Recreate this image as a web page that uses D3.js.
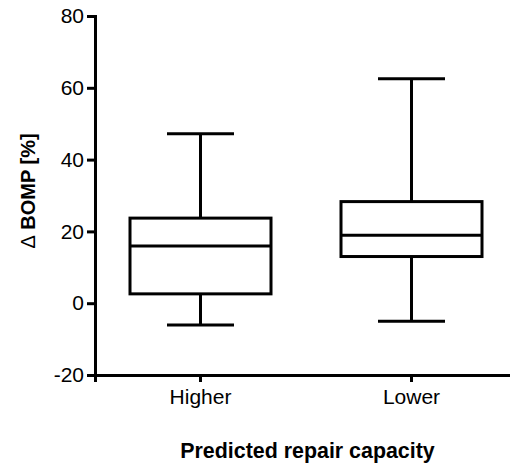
<!DOCTYPE html>
<html>
<head>
<meta charset="utf-8">
<script src="https://cdn.jsdelivr.net/npm/d3@7"></script>
<style>
  body { margin: 0; background: #fff; }
  text { font-family: "Liberation Sans", Arial, sans-serif; }
</style>
</head>
<body>
<div id="my_dataviz"></div>
<script>
// box plot data (whisker min/max, quartiles, median)
var groups = ["Higher", "Lower"];
var mins = [-6.1, -5.0];
var q1s = [2.6, 13.0];
var medians = [15.9, 18.9];
var q3s = [23.7, 28.3];
var maxs = [47.2, 62.5];
var yTicks = [-20, 0, 20, 40, 60, 80];

var margin = {top: 16, right: 0, bottom: 91, left: 95},
    width = 510 - margin.left - margin.right,
    height = 466 - margin.top - margin.bottom;

var svg = d3.select("#my_dataviz")
  .append("svg")
    .attr("width", width + margin.left + margin.right)
    .attr("height", height + margin.top + margin.bottom)
  .append("g")
    .attr("transform", "translate(" + margin.left + "," + margin.top + ")");

var data = groups.map(function(g, i) {
  return {name: g, min: mins[i], q1: q1s[i], median: medians[i], q3: q3s[i], max: maxs[i]};
});

var x = d3.scaleBand()
  .domain(groups)
  .range([0, 422])
  .padding(0);

var y = d3.scaleLinear()
  .domain([-20, 80])
  .range([height, 0]);

var boxW = 141, capW = 67;

// y axis (plain hyphen for negatives, like the original)
var yAxis = svg.append("g")
  .call(d3.axisLeft(y).tickValues(yTicks).tickSize(8).tickPadding(3)
    .tickFormat(function(d) { return String(d); }));
// x axis
var xAxis = svg.append("g")
  .attr("transform", "translate(0," + height + ")")
  .call(d3.axisBottom(x).tickSize(7).tickPadding(5));

[yAxis, xAxis].forEach(function(a) {
  a.select(".domain").attr("stroke-width", 3);
  a.selectAll(".tick line").attr("stroke-width", 3);
  a.selectAll("text").style("font-size", "21px").attr("fill", "#000");
});
xAxis.selectAll("text").attr("dy", "0.8em");

var box = svg.selectAll(".box")
  .data(data)
  .enter()
  .append("g")
    .attr("transform", function(d) { return "translate(" + (x(d.name) + x.bandwidth() / 2) + ",0)"; })
    .attr("stroke", "#000")
    .attr("stroke-width", 3)
    .attr("fill", "none");

// whiskers
box.append("line")
  .attr("y1", function(d) { return y(d.max); })
  .attr("y2", function(d) { return y(d.q3); });
box.append("line")
  .attr("y1", function(d) { return y(d.q1); })
  .attr("y2", function(d) { return y(d.min); });
box.append("line")
  .attr("x1", -capW / 2).attr("x2", capW / 2)
  .attr("y1", function(d) { return y(d.max); })
  .attr("y2", function(d) { return y(d.max); });
box.append("line")
  .attr("x1", -capW / 2).attr("x2", capW / 2)
  .attr("y1", function(d) { return y(d.min); })
  .attr("y2", function(d) { return y(d.min); });
// box
box.append("rect")
  .attr("x", -boxW / 2)
  .attr("width", boxW)
  .attr("y", function(d) { return y(d.q3); })
  .attr("height", function(d) { return y(d.q1) - y(d.q3); })
  .attr("fill", "#fff");
// median
box.append("line")
  .attr("x1", -boxW / 2).attr("x2", boxW / 2)
  .attr("y1", function(d) { return y(d.median); })
  .attr("y2", function(d) { return y(d.median); });

// axis titles
var yTitle = svg.append("text")
  .attr("transform", "rotate(-90)")
  .attr("x", -175)
  .attr("y", -60.5)
  .attr("text-anchor", "middle")
  .style("font-size", "20px")
  .style("font-weight", "bold");
yTitle.append("tspan").style("font-weight", "normal").text("\u0394");
yTitle.append("tspan").text(" BOMP [%]");

svg.append("text")
  .attr("x", 212.5)
  .attr("y", height + 83.3)
  .attr("text-anchor", "middle")
  .style("font-size", "21.4px")
  .style("font-weight", "bold")
  .text("Predicted repair capacity");
</script>
</body>
</html>
